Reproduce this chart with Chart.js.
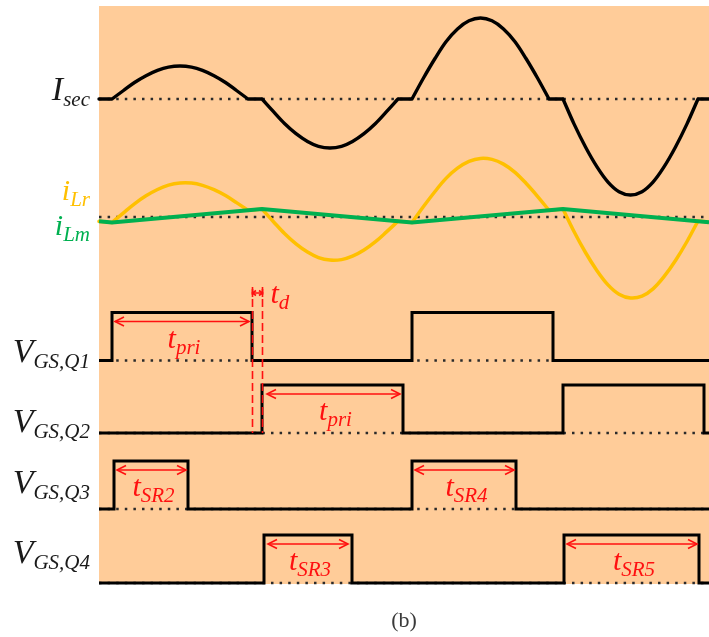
<!DOCTYPE html>
<html>
<head>
<meta charset="utf-8">
<script src="https://cdn.jsdelivr.net/npm/chart.js@4.4.0/dist/chart.umd.min.js"></script>
<style>
html, body { margin: 0; padding: 0; background: #fff; }
#wrap { position: relative; width: 709px; height: 637px; }
</style>
</head>
<body>
<div id="wrap"><canvas id="chart" width="709" height="637"></canvas></div>
<script>
// Timing diagram: secondary current, resonant/magnetizing currents and four gate signals.

// shared time grid for the sinusoidal currents (arbitrary time units)
const tCurr = [0,
    13, 24.5, 35.5, 47, 58.5, 69.5, 81, 92.5, 103.5, 115, 126.5, 137.5, 149,
    163, 174.5, 185.5, 197, 208.5, 219.5, 231, 242.5, 253.5, 265, 276.5, 287.5, 299,
    313, 324.5, 336, 347, 358.5, 370, 381.5, 393, 404.5, 416, 427, 438.5, 450,
    464, 475, 486.5, 498, 509, 520, 531.5, 543, 554, 565, 576.5, 588, 599,
    610];
const isecVals = [0,
    0, 8.5, 16.5, 23.3, 28.6, 31.9, 33, 31.9, 28.6, 23.3, 16.5, 8.5, 0,
    0, -12.7, -24.5, -34.6, -42.4, -47.3, -49, -47.3, -42.4, -34.6, -24.5, -12.7, 0,
    0, 21, 40.5, 57.3, 70.1, 78.2, 81, 78.2, 70.1, 57.3, 40.5, 21, 0,
    0, -24.9, -48, -67.9, -83.1, -92.7, -96, -92.7, -83.1, -67.9, -48, -24.9, 0,
    0];
const iLrVals = [-4.3,
    -5.5, 4.2, 13.2, 21.2, 27.5, 31.9, 34, 33.9, 31.6, 27.3, 21.4, 14.4, 6.7,
    8, -4.7, -16.5, -26.9, -35.1, -40.6, -43.1, -42.6, -39.2, -33, -24.7, -14.9, -4.2,
    -5.5, 10.5, 25.5, 38.6, 48.8, 55.6, 58.6, 57.6, 52.9, 44.7, 33.7, 20.7, 6.7,
    8, -14.5, -35.5, -53.7, -67.9, -77.2, -81, -79.2, -71.9, -59.7, -43.5, -24.5, -4,
    -5.2];
// grid indices where a half-wave starts or ends (sharp corners)
const cornerIdx = [1, 13, 14, 26, 27, 39, 40, 52];

// magnetizing current corners
const tLm = [0, 13, 163, 313, 464, 610];
const iLmVals = [-4.3, -5.5, 8, -5.5, 8, -5.2];

// gate signals: edge times and logic level from that time on
const q1Times = [0, 13, 153, 313, 454, 610];
const q1Level = [0, 1, 0, 1, 0, 0];
const q2Times = [0, 163, 304, 464, 605, 610];
const q2Level = [0, 1, 0, 1, 0, 0];
const q3Times = [0, 15, 89, 313, 417, 610];
const q3Level = [0, 1, 0, 1, 0, 0];
const q4Times = [0, 165, 253, 465, 600, 610];
const q4Level = [0, 1, 0, 1, 0, 0];

// interval annotations
const spanRow = ['q1', 'q2', 'q3', 'q3', 'q4', 'q4'];
const spanStart = [16, 168, 18, 316, 169, 468];
const spanEnd = [150, 301, 87, 415, 249, 598];
const spanSub = ['pri', 'pri', 'SR2', 'SR4', 'SR3', 'SR5'];
const deadStart = 153.5;
const deadEnd = 163.5;

// row labels
const rowMain = ['I', 'i', 'i', 'V', 'V', 'V', 'V'];
const rowSub = ['sec', 'Lr', 'Lm', 'GS,Q1', 'GS,Q2', 'GS,Q3', 'GS,Q4'];

// layout (value units == pixels on the vertical axis)
const T_MAX = 610;
const Y_MAX = 578;
const base = { isec: 485, il: 367, q1: 223.5, q2: 151, q3: 75, q4: 1 };
const GATE_HIGH = 48;
const labelY = [100, 200, 235, 362, 432, 493, 563];
const labelColor = ['#1a1a1a', '#FFC000', '#00B050', '#1a1a1a', '#1a1a1a', '#1a1a1a', '#1a1a1a'];
const RED = '#FF1010';
const SERIF = '"Liberation Serif", "Times New Roman", serif';

function pts(times, vals, offset, scale = 1) {
    return times.map((t, i) => ({ x: t, y: offset + vals[i] * scale }));
}

// split at the corners so the spline stays smooth inside a half-wave but the corners stay sharp
function wavePts(times, vals, offset) {
    const out = [];
    times.forEach((t, i) => {
        const p = { x: t, y: offset + vals[i] };
        out.push(p);
        if (cornerIdx.includes(i)) {
            out.push({ x: t, y: null });
            out.push({ x: t, y: p.y });
        }
    });
    return out;
}

function dotted(offset) {
    return {
        data: [{ x: 0, y: offset }, { x: T_MAX, y: offset }],
        borderColor: '#2a2a2a',
        borderWidth: 2.5,
        borderDash: [2.5, 6.1],
        borderCapStyle: 'butt',
        pointRadius: 0,
        order: 9
    };
}

function gate(times, levels, offset) {
    return {
        data: pts(times, levels, offset, GATE_HIGH),
        stepped: true,
        borderColor: '#000',
        borderWidth: 3,
        borderJoinStyle: 'miter',
        pointRadius: 0,
        order: 1
    };
}

function drawSub(ctx, main, sub, x, y, mainPx, subPx, color, align) {
    ctx.font = `italic ${mainPx}px ${SERIF}`;
    const wm = ctx.measureText(main).width;
    ctx.font = `italic ${subPx}px ${SERIF}`;
    const ws = ctx.measureText(sub).width;
    let sx = x;
    if (align === 'right') sx = x - wm - ws;
    if (align === 'center') sx = x - (wm + ws) / 2;
    ctx.fillStyle = color;
    ctx.textAlign = 'left';
    ctx.textBaseline = 'alphabetic';
    ctx.font = `italic ${mainPx}px ${SERIF}`;
    ctx.fillText(main, sx, y);
    ctx.font = `italic ${subPx}px ${SERIF}`;
    ctx.fillText(sub, sx + wm, y + 6);
}

function arrowHead(ctx, x, y, dir, len = 9, half = 4.5) {
    ctx.beginPath();
    ctx.moveTo(x - dir * len, y - half);
    ctx.lineTo(x, y);
    ctx.lineTo(x - dir * len, y + half);
    ctx.stroke();
}

const backdrop = {
    id: 'backdrop',
    beforeDraw(chart) {
        const { ctx, chartArea: a } = chart;
        ctx.save();
        ctx.fillStyle = '#FFCC99';
        ctx.fillRect(a.left, a.top, a.right - a.left, a.bottom - a.top);
        ctx.restore();
    }
};

const annotations = {
    id: 'annotations',
    afterDatasetsDraw(chart) {
        const { ctx } = chart;
        const xs = chart.scales.x;
        const ys = chart.scales.y;
        ctx.save();
        ctx.strokeStyle = RED;
        ctx.lineWidth = 1.6;

        // interval arrows with labels
        spanStart.forEach((t0, i) => {
            const x0 = xs.getPixelForValue(t0);
            const x1 = xs.getPixelForValue(spanEnd[i]);
            const y = ys.getPixelForValue(base[spanRow[i]] + 39);
            ctx.beginPath();
            ctx.moveTo(x0, y);
            ctx.lineTo(x1, y);
            ctx.stroke();
            arrowHead(ctx, x0, y, -1);
            arrowHead(ctx, x1, y, 1);
            drawSub(ctx, 't', spanSub[i], (x0 + x1) / 2 + 2, y + 26, 30, 21, RED, 'center');
        });

        // dead time markers
        const xa = xs.getPixelForValue(deadStart);
        const xb = xs.getPixelForValue(deadEnd);
        const yTop = ys.getPixelForValue(297);
        const yBot = ys.getPixelForValue(base.q2);
        ctx.setLineDash([8, 4]);
        [xa, xb].forEach(x => {
            ctx.beginPath();
            ctx.moveTo(x, yTop);
            ctx.lineTo(x, yBot);
            ctx.stroke();
        });
        ctx.setLineDash([]);
        const yd = ys.getPixelForValue(291);
        ctx.beginPath();
        ctx.moveTo(xa, yd);
        ctx.lineTo(xb, yd);
        ctx.moveTo(xa, yd - 4);
        ctx.lineTo(xa, yd + 4);
        ctx.moveTo(xb, yd - 4);
        ctx.lineTo(xb, yd + 4);
        ctx.stroke();
        arrowHead(ctx, xa, yd, -1, 3.5, 2.5);
        arrowHead(ctx, xb, yd, 1, 3.5, 2.5);
        drawSub(ctx, 't', 'd', xb + 8, yd + 10, 30, 21, RED, 'left');
        ctx.restore();
    },
    afterDraw(chart) {
        const { ctx } = chart;
        ctx.save();
        rowMain.forEach((m, i) => {
            const big = m === 'i' ? 30 : 34;
            drawSub(ctx, m, rowSub[i], 90, labelY[i], big, 21, labelColor[i], 'right');
        });
        ctx.font = `22px ${SERIF}`;
        ctx.fillStyle = '#3a3a3a';
        ctx.textAlign = 'center';
        ctx.textBaseline = 'alphabetic';
        ctx.fillText('(b)', 404, 627);
        ctx.restore();
    }
};

new Chart(document.getElementById('chart').getContext('2d'), {
    type: 'line',
    data: {
        datasets: [
            dotted(base.isec),
            dotted(base.il),
            dotted(base.q1),
            dotted(base.q2),
            dotted(base.q3),
            dotted(base.q4),
            {
                data: wavePts(tCurr, iLrVals, base.il),
                borderColor: '#FFC000',
                borderWidth: 3.5,
                borderCapStyle: 'round',
                pointRadius: 0,
                tension: 0.35,
                order: 3
            },
            {
                data: pts(tLm, iLmVals, base.il),
                borderColor: '#00B050',
                borderWidth: 4,
                pointRadius: 0,
                tension: 0,
                order: 2
            },
            {
                data: wavePts(tCurr, isecVals, base.isec),
                borderColor: '#000',
                borderWidth: 3.4,
                borderCapStyle: 'round',
                pointRadius: 0,
                tension: 0.35,
                order: 1
            },
            gate(q1Times, q1Level, base.q1),
            gate(q2Times, q2Level, base.q2),
            gate(q3Times, q3Level, base.q3),
            gate(q4Times, q4Level, base.q4)
        ]
    },
    options: {
        responsive: false,
        devicePixelRatio: 1,
        animation: false,
        clip: false,
        layout: { padding: { left: 99, top: 6, right: 0, bottom: 53 } },
        plugins: { legend: { display: false }, tooltip: { enabled: false } },
        scales: {
            x: { type: 'linear', min: 0, max: T_MAX, display: false },
            y: { type: 'linear', min: 0, max: Y_MAX, display: false }
        }
    },
    plugins: [backdrop, annotations]
});
</script>
</body>
</html>
